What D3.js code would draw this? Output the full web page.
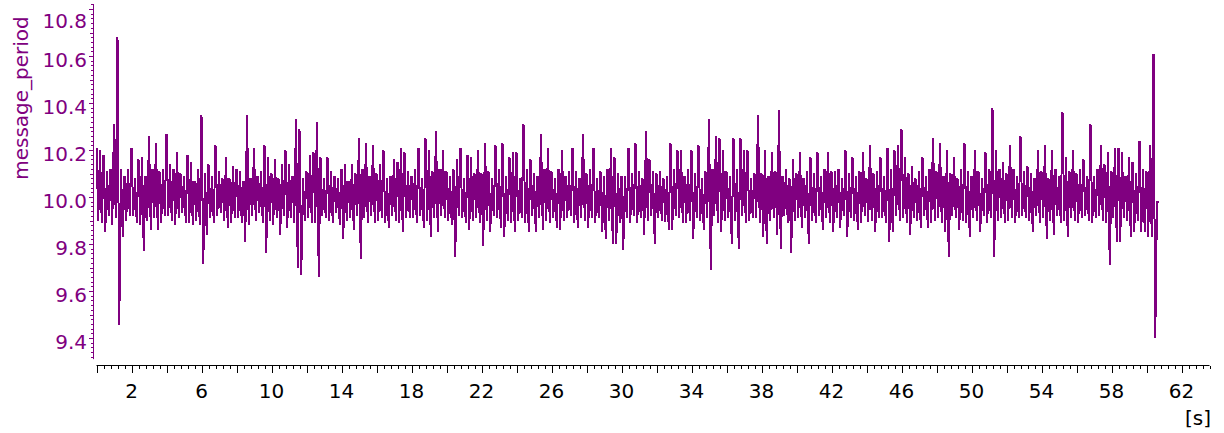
<!DOCTYPE html>
<html>
<head>
<meta charset="utf-8">
<script src="https://cdn.jsdelivr.net/npm/d3@7"></script>
<style>
  body { margin: 0; background: #fff; }
  svg { display: block; font-family: "DejaVu Sans", sans-serif; }
</style>
</head>
<body>
<svg id="chart" width="1224" height="433"></svg>
<script>
// message_period per 0.2 s bin: max and min inside each bin
var binStep = 0.2;
var hiVals = [
  10.21, 10.2, 10.18, 10.11, 10.12, 10.31, 10.68, 10.12, 10.09, 10.12,
  10.21, 10.08, 10.16, 10.17, 10.09, 10.26, 10.12, 10.23, 10.11, 10.12,
  10.27, 10.14, 10.12, 10.19, 10.1, 10.09, 10.18, 10.15, 10.07, 10.12,
  10.35, 10.1, 10.14, 10.09, 10.22, 10.11, 10.08, 10.17, 10.08, 10.13,
  10.12, 10.11, 10.07, 10.35, 10.08, 10.21, 10.09, 10.11, 10.22, 10.17,
  10.1, 10.16, 10.08, 10.14, 10.2, 10.14, 10.09, 10.33, 10.29, 10.08,
  10.11, 10.18, 10.19, 10.32, 10.17, 10.08, 10.17, 10.11, 10.09, 10.08,
  10.12, 10.14, 10.07, 10.14, 10.1, 10.25, 10.12, 10.23, 10.09, 10.22,
  10.1, 10.14, 10.2, 10.08, 10.09, 10.16, 10.15, 10.21, 10.19, 10.11,
  10.09, 10.12, 10.21, 10.08, 10.25, 10.2, 10.11, 10.28, 10.12, 10.2,
  10.11, 10.09, 10.12, 10.16, 10.21, 10.08, 10.18, 10.17, 10.1, 10.2,
  10.1, 10.23, 10.11, 10.08, 10.22, 10.12, 10.23, 10.09, 10.17, 10.19,
  10.19, 10.08, 10.31, 10.12, 10.16, 10.1, 10.09, 10.27, 10.12, 10.21,
  10.11, 10.08, 10.12, 10.2, 10.09, 10.11, 10.21, 10.11, 10.08, 10.27,
  10.1, 10.12, 10.21, 10.08, 10.11, 10.09, 10.12, 10.21, 10.17, 10.1,
  10.09, 10.09, 10.21, 10.1, 10.23, 10.11, 10.08, 10.28, 10.16, 10.11,
  10.1, 10.11, 10.08, 10.09, 10.23, 10.12, 10.2, 10.2, 10.09, 10.12,
  10.2, 10.1, 10.22, 10.08, 10.11, 10.33, 10.12, 10.26, 10.25, 10.2,
  10.11, 10.09, 10.25, 10.12, 10.25, 10.2, 10.2, 10.08, 10.1, 10.35,
  10.1, 10.2, 10.09, 10.19, 10.11, 10.37, 10.09, 10.12, 10.08, 10.16,
  10.1, 10.19, 10.08, 10.11, 10.17, 10.1, 10.19, 10.09, 10.12, 10.19,
  10.11, 10.11, 10.12, 10.08, 10.2, 10.1, 10.17, 10.09, 10.11, 10.19,
  10.08, 10.22, 10.1, 10.11, 10.17, 10.09, 10.21, 10.12, 10.2, 10.22,
  10.29, 10.17, 10.1, 10.13, 10.08, 10.11, 10.17, 10.09, 10.12, 10.25,
  10.11, 10.23, 10.09, 10.2, 10.1, 10.17, 10.08, 10.12, 10.23, 10.11,
  10.09, 10.2, 10.11, 10.08, 10.19, 10.12, 10.38, 10.2, 10.12, 10.15,
  10.1, 10.22, 10.12, 10.09, 10.26, 10.11, 10.13, 10.1, 10.08, 10.2,
  10.11, 10.22, 10.08, 10.2, 10.12, 10.09, 10.36, 10.17, 10.11, 10.2,
  10.1, 10.12, 10.16, 10.09, 10.31, 10.09, 10.12, 10.22, 10.14, 10.19,
  10.11, 10.21, 10.21, 10.19, 10.09, 10.17, 10.15, 10.1, 10.24, 10.12,
  10.11, 10.22, 10.61, 9.98
];
var loVals = [
  9.9, 9.89, 9.85, 9.92, 9.88, 9.91, 9.455, 9.83, 9.9, 9.92,
  9.92, 9.89, 9.88, 9.77, 9.9, 9.86, 9.91, 9.86, 9.89, 9.92,
  9.92, 9.9, 9.88, 9.91, 9.93, 9.89, 9.89, 9.88, 9.9, 9.88,
  9.715, 9.84, 9.91, 9.89, 9.92, 9.93, 9.9, 9.87, 9.89, 9.91,
  9.91, 9.89, 9.81, 9.88, 9.92, 9.9, 9.93, 9.89, 9.76, 9.9,
  9.88, 9.91, 9.84, 9.92, 9.87, 9.91, 9.89, 9.7, 9.67, 9.9,
  9.91, 9.89, 9.89, 9.66, 9.92, 9.91, 9.9, 9.89, 9.93, 9.88,
  9.82, 9.9, 9.91, 9.86, 9.92, 9.735, 9.91, 9.89, 9.92, 9.89,
  9.9, 9.91, 9.89, 9.87, 9.92, 9.9, 9.89, 9.85, 9.91, 9.91,
  9.91, 9.89, 9.92, 9.87, 9.9, 9.83, 9.91, 9.85, 9.92, 9.91,
  9.9, 9.88, 9.745, 9.92, 9.91, 9.89, 9.86, 9.9, 9.91, 9.89,
  9.79, 9.9, 9.85, 9.92, 9.91, 9.87, 9.83, 9.9, 9.89, 9.85,
  9.9, 9.91, 9.89, 9.85, 9.92, 9.85, 9.91, 9.86, 9.9, 9.89,
  9.91, 9.87, 9.86, 9.9, 9.91, 9.92, 9.89, 9.87, 9.91, 9.9,
  9.87, 9.91, 9.89, 9.91, 9.85, 9.82, 9.9, 9.8, 9.8, 9.89,
  9.775, 9.91, 9.89, 9.92, 9.89, 9.91, 9.84, 9.9, 9.92, 9.8,
  9.91, 9.9, 9.895, 9.86, 9.86, 9.92, 9.91, 9.89, 9.89, 9.9,
  9.82, 9.91, 9.9, 9.86, 9.91, 9.69, 9.92, 9.89, 9.85, 9.9,
  9.91, 9.8, 9.9, 9.78, 9.92, 9.89, 9.9, 9.91, 9.91, 9.89,
  9.83, 9.8, 9.9, 9.91, 9.84, 9.78, 9.92, 9.89, 9.76, 9.9,
  9.91, 9.87, 9.91, 9.8, 9.9, 9.89, 9.92, 9.86, 9.91, 9.89,
  9.85, 9.91, 9.87, 9.92, 9.83, 9.91, 9.9, 9.86, 9.89, 9.92,
  9.895, 9.9, 9.85, 9.91, 9.91, 9.89, 9.81, 9.85, 9.92, 9.9,
  9.91, 9.89, 9.84, 9.91, 9.9, 9.87, 9.92, 9.87, 9.89, 9.9,
  9.91, 9.89, 9.85, 9.745, 9.92, 9.91, 9.86, 9.9, 9.89, 9.83,
  9.91, 9.9, 9.85, 9.92, 9.89, 9.91, 9.745, 9.9, 9.91, 9.89,
  9.9, 9.91, 9.89, 9.91, 9.92, 9.91, 9.9, 9.85, 9.92, 9.89,
  9.91, 9.82, 9.9, 9.84, 9.92, 9.89, 9.9, 9.83, 9.91, 9.9,
  9.89, 9.91, 9.92, 9.9, 9.89, 9.91, 9.92, 9.9, 9.89, 9.71,
  9.91, 9.81, 9.81, 9.91, 9.9, 9.83, 9.85, 9.9, 9.85, 9.85,
  9.83, 9.83, 9.4, 9.98
];
var yTickLabels = [9.4, 9.6, 9.8, 10.0, 10.2, 10.4, 10.6, 10.8];
var xTickLabels = [2, 6, 10, 14, 18, 22, 26, 30, 34, 38, 42, 46, 50, 54, 58, 62];
var yName = "message_period";
var xUnit = "[s]";

var purple = "#800080";
var svg = d3.select("#chart");

var x = d3.scaleLinear().domain([0, 63.6]).range([96.5, 1209.5]);
var y = d3.scaleLinear().domain([9.31, 10.82]).range([359.15, 4.3]);

// zigzag through max/min of each bin
var pts = [];
hiVals.forEach(function(h, i) {
  pts.push([i * binStep, h]);
  pts.push([i * binStep + binStep / 2, loVals[i]]);
});

var line = d3.line()
  .x(function(d) { return x(d[0]); })
  .y(function(d) { return y(d[1]); });

svg.append("path")
  .datum(pts)
  .attr("d", line)
  .attr("fill", "none")
  .attr("stroke", purple)
  .attr("stroke-width", 2)
  .attr("stroke-linejoin", "bevel")
  .attr("shape-rendering", "crispEdges");

// y axis: minor 0.02, medium 0.1, major 0.2
var yMinor = d3.range(466, 542).map(function(k) { return k / 50; });

function yAxisG(values, size) {
  var g = svg.append("g")
    .attr("transform", "translate(93.5,0)")
    .call(d3.axisLeft(y).tickValues(values).tickSize(size).tickFormat(""));
  g.selectAll("line").attr("stroke", purple);
  g.select(".domain").remove();
  return g;
}
yAxisG(yMinor, 3);
yAxisG(d3.range(94, 109).map(function(k) { return k / 10; }), 4);
yAxisG(d3.range(47, 55).map(function(k) { return k / 5; }), 5);

svg.append("line")
  .attr("x1", 93.5).attr("x2", 93.5)
  .attr("y1", y.range()[1]).attr("y2", y.range()[0])
  .attr("stroke", purple);

svg.append("g").selectAll("text")
  .data(yTickLabels)
  .enter().append("text")
  .attr("x", 87)
  .attr("y", function(d) { return Math.max(y(d) + 4, 21) + 7.3; })
  .attr("text-anchor", "end")
  .attr("fill", purple)
  .style("font-size", "20px")
  .text(function(d) { return d.toFixed(1); });

svg.append("text")
  .attr("transform", "translate(28,98) rotate(-90)")
  .attr("text-anchor", "middle")
  .attr("fill", purple)
  .style("font-size", "20px")
  .text(yName);

// x axis
var xG = svg.append("g").attr("transform", "translate(0,365.5)");
xG.call(d3.axisBottom(x).tickValues(d3.range(0, 160).map(function(k) { return k * 0.4; })).tickSize(3).tickFormat(""));
xG.select(".domain").remove();
var xG2 = svg.append("g").attr("transform", "translate(0,365.5)");
xG2.call(d3.axisBottom(x).tickValues(d3.range(0, 32).map(function(k) { return k * 2; })).tickSize(7).tickFormat(""));
xG2.select(".domain").remove();
svg.selectAll("g line").attr("shape-rendering", "crispEdges");

svg.append("line")
  .attr("x1", x.range()[0]).attr("x2", x.range()[1])
  .attr("y1", 365.5).attr("y2", 365.5)
  .attr("stroke", "#000");

svg.append("g").selectAll("text")
  .data(xTickLabels)
  .enter().append("text")
  .attr("x", function(d) { return x(d); })
  .attr("y", 398)
  .attr("text-anchor", "middle")
  .attr("fill", "#000")
  .style("font-size", "20px")
  .text(function(d) { return d; });

svg.append("text")
  .attr("x", 1211)
  .attr("y", 425)
  .attr("text-anchor", "end")
  .attr("fill", "#000")
  .style("font-size", "20px")
  .text(xUnit);
</script>
</body>
</html>
